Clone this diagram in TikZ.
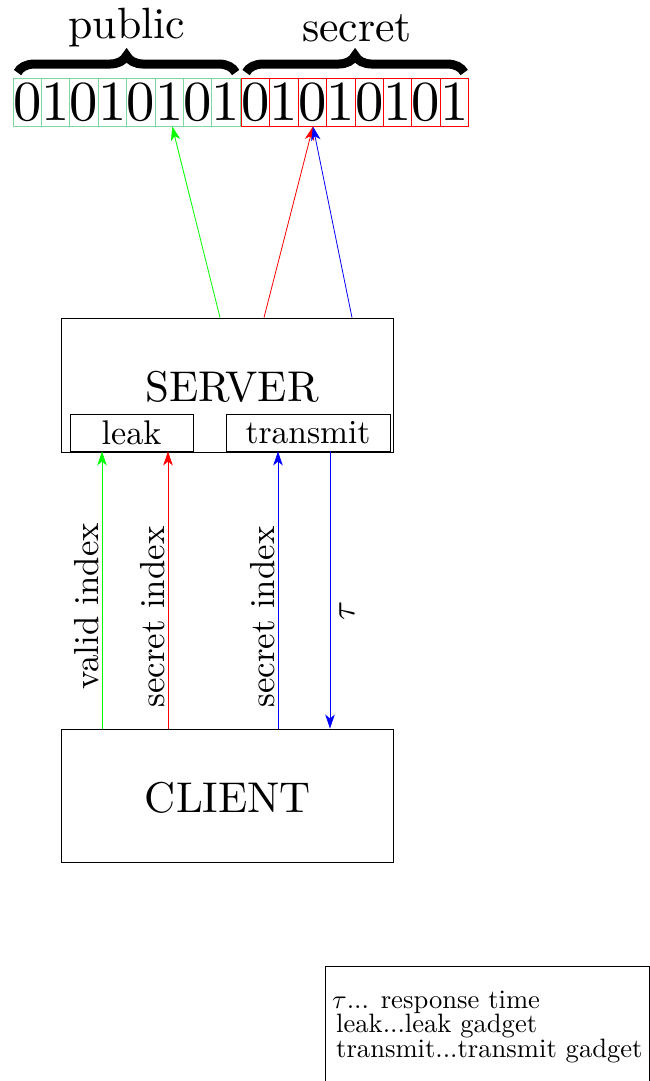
\documentclass[tikz,border=0pt]{standalone}
\usepackage{graphicx}
\usetikzlibrary{arrows.meta,decorations.pathreplacing,calc}
\definecolor{mint}{RGB}{125,215,160}
% text set at 10pt design size and enlarged
\newcommand{\enl}[2]{\scalebox{#1}{#2}}
\begin{document}
\begin{tikzpicture}[x=1pt,y=-1pt,
  every node/.style={font=\fontsize{10}{12}\selectfont},
  cell/.style={draw,minimum width=28.4pt,minimum height=48pt,inner sep=0pt},
  pubcell/.style={cell,draw=mint,line width=0.9pt},
  seccell/.style={cell,draw=red,line width=0.9pt},
  bigbox/.style={draw,line width=0.9pt,inner sep=0pt},
  gadget/.style={draw,line width=0.9pt,inner sep=0pt,minimum height=37pt},
  plain/.style={inner sep=0pt},
  lbl/.style={inner sep=0pt,rotate=90},
  legtxt/.style={inner sep=0pt,anchor=base west},
  arr/.style={line width=0.8pt,-{Stealth[length=14pt,width=9.5pt,inset=4pt]}},
  curly/.style={decorate,decoration={brace,amplitude=17pt},line width=9pt}
]
\useasboundingbox (0,0) rectangle (650,1081);

% bit cells
\foreach \i/\b in {0/0,1/1,2/0,3/1,4/0,5/1,6/0,7/1}{
  \node[pubcell] (g\i) at (27.2+28.4*\i,102) {\enl{5.66}{\b}};
  \node[seccell] (s\i) at (255.7+28.4*\i,102) {\enl{5.66}{\b}};
}

% braces and their labels
\draw[curly] ([xshift=5pt,yshift=5pt]g0.north west) -- ([xshift=-5pt,yshift=5pt]g7.north east);
\draw[curly] ([xshift=5pt,yshift=5pt]s0.north west) -- ([xshift=-5pt,yshift=5pt]s7.north east);
\node[plain] (pub) at (127,28) {\enl{4.38}{public}};
\node[plain] (sec) at (357,28) {\enl{4.38}{secret}};

% server
\node[bigbox,minimum width=332pt,minimum height=134pt] (srv) at (227,385) {};
\node[plain] (srvt) at (232,387) {\enl{4.3}{SERVER}};
\node[gadget,minimum width=123pt] (leak) at (131.5,432.5) {\enl{3.42}{leak}};
\node[gadget,minimum width=164pt] (tx) at (308,432.5) {\enl{3.35}{transmit}};

% client
\node[bigbox,minimum width=332pt,minimum height=133pt] (cl) at (227,795.5) {};
\node[plain] (clt) at (228,798) {\enl{4.3}{CLIENT}};

% server to memory
\draw[arr,green] ([xshift=-7pt]srv.north) -- ([xshift=3pt]g5.south);
\draw[arr,red] ([xshift=37pt]srv.north) -- ([xshift=0.5pt]s2.south);
\draw[arr,blue] ([xshift=125pt]srv.north) -- ([xshift=0.5pt]s2.south);

% client to server
\coordinate (c1) at (102,0);
\coordinate (c2) at (168,0);
\coordinate (c3) at (278,0);
\coordinate (c4) at (330,0);
\draw[arr,green] (c1 |- cl.north) -- (c1 |- leak.south);
\draw[arr,red] (c2 |- cl.north) -- (c2 |- leak.south);
\draw[arr,blue] (c3 |- cl.north) -- (c3 |- tx.south);
\draw[arr,blue] (c4 |- tx.south) -- (c4 |- cl.north);

\node[lbl] (l1) at (87,606) {\enl{3.48}{valid index}};
\node[lbl] (l2) at (153,617) {\enl{3.48}{secret index}};
\node[lbl] (l3) at (263,617) {\enl{3.48}{secret index}};
\node[lbl] (l4) at (347,611) {\enl{3.48}{$\tau$}};

% legend
\node[draw,line width=0.9pt,anchor=north west,minimum width=324pt,minimum height=140pt,inner sep=0pt] (leg) at (325,966) {};
\node[legtxt] (e1) at (332,1008) {\enl{2.66}{$\tau$... response time}};
\node[legtxt] (e2) at (336,1032.5) {\enl{2.66}{leak...leak gadget}};
\node[legtxt] (e3) at (336,1057) {\enl{2.66}{transmit...transmit gadget}};
\end{tikzpicture}
\end{document}
